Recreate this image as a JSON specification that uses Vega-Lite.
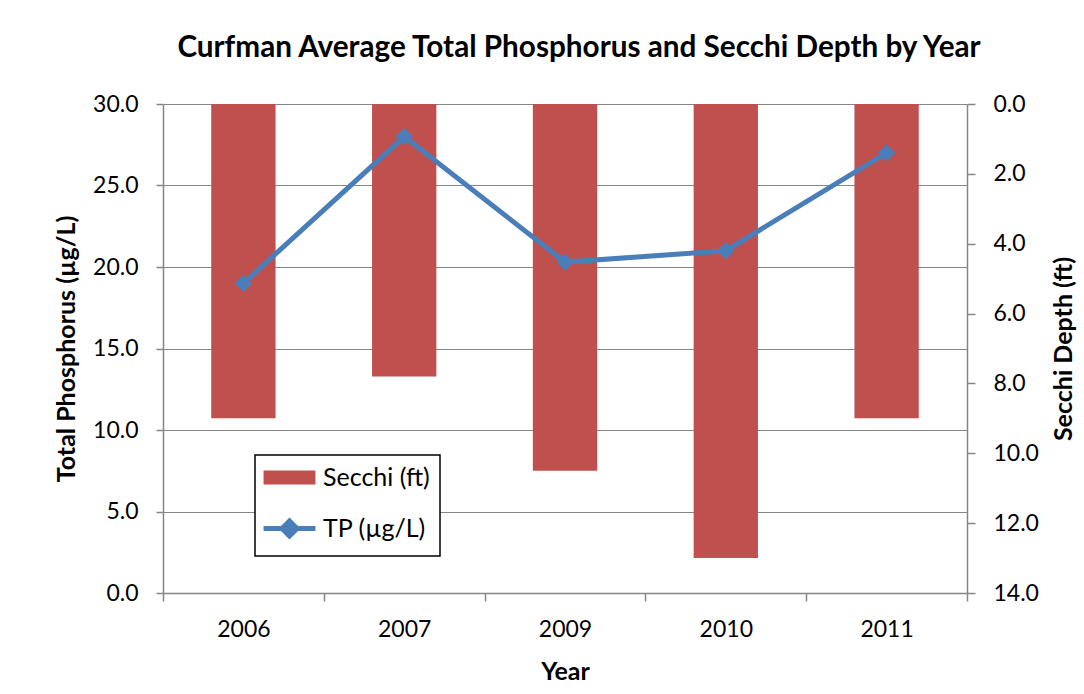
{
  "$schema": "https://vega.github.io/schema/vega-lite/v6.json",
  "width": 804,
  "height": 489,
  "autosize": {"type": "none"},
  "padding": {"left": 163, "top": 104, "right": 117, "bottom": 101},
  "background": "white",
  "title": {
    "text": "Curfman Average Total Phosphorus and Secchi Depth by Year",
    "font": "Lato",
    "fontSize": 29.7,
    "fontWeight": "bold",
    "color": "black",
    "anchor": "middle",
    "baseline": "alphabetic",
    "offset": 6,
    "dx": 14
  },
  "config": {
    "view": {"stroke": null},
    "font": "Lato",
    "axis": {
      "labelFont": "Lato",
      "labelFontSize": 23,
      "labelColor": "black",
      "titleFont": "Lato",
      "titleFontSize": 25,
      "titleFontWeight": "bold",
      "titleColor": "black",
      "domainColor": "#868686",
      "tickColor": "#868686",
      "gridColor": "#868686",
      "domainWidth": 1.5,
      "tickWidth": 1.5
    }
  },
  "data": {
    "values": [
      {"year": "2006", "tp": 19.0, "secchi": 9.0},
      {"year": "2007", "tp": 28.0, "secchi": 7.8},
      {"year": "2009", "tp": 20.3, "secchi": 10.5},
      {"year": "2010", "tp": 21.0, "secchi": 13.0},
      {"year": "2011", "tp": 27.0, "secchi": 9.0}
    ]
  },
  "layer": [
    {
      "mark": {"type": "bar", "width": {"band": 0.4}},
      "encoding": {
        "x": {
          "field": "year",
          "type": "nominal",
          "scale": {"paddingInner": 0, "paddingOuter": 0},
          "axis": {
            "title": "Year",
            "labelAngle": 0,
            "tickBand": "extent",
            "tickSize": 8,
            "labelPadding": 17,
            "titlePadding": 18,
            "grid": false
          }
        },
        "y": {
          "field": "secchi",
          "type": "quantitative",
          "scale": {"domain": [0, 14], "reverse": true, "nice": false},
          "axis": {
            "orient": "right",
            "title": "Secchi Depth (ft)",
            "titleAngle": -90,
            "titleBaseline": "top",
            "titlePadding": 13,
            "values": [0, 2, 4, 6, 8, 10, 12, 14],
            "format": ".1f",
            "grid": false,
            "tickSize": 8,
            "labelPadding": 18
          }
        },
        "color": {
          "datum": "Secchi (ft)",
          "type": "nominal",
          "scale": {"domain": ["Secchi (ft)", "TP (µg/L)"], "range": ["#c0504d", "#4a7ebb"]},
          "legend": {
            "title": null,
            "orient": "none",
            "legendX": 92,
            "legendY": 351,
            "strokeColor": "black",
            "fillColor": "white",
            "padding": 10,
            "symbolSize": 900,
            "symbolOffset": 12,
            "labelOffset": 21,
            "rowPadding": 20,
            "labelFont": "Lato",
            "labelFontSize": 25,
            "labelColor": "black",
            "encode": {
              "legend": {
                "update": {"strokeWidth": {"value": 1.5}}
              },
              "symbols": {
                "update": {
                  "shape": {"signal": "datum.value === 'Secchi (ft)' ? 'M-1.73,-0.47H1.73V0.47H-1.73Z' : 'M-1.73,0H1.73M0,-0.5L0.5,0L0,0.5L-0.5,0Z'"},
                  "fill": {"signal": "datum.value === 'Secchi (ft)' ? '#c0504d' : '#4a7ebb'"},
                  "stroke": {"signal": "datum.value === 'Secchi (ft)' ? null : '#4a7ebb'"},
                  "strokeWidth": {"signal": "datum.value === 'Secchi (ft)' ? 0 : 5"},
                  "opacity": {"value": 1}
                }
              }
            }
          }
        }
      }
    },
    {
      "mark": {
        "type": "line",
        "strokeWidth": 5,
        "point": {"shape": "diamond", "size": 300, "filled": true, "opacity": 1}
      },
      "encoding": {
        "x": {"field": "year", "type": "nominal"},
        "y": {
          "field": "tp",
          "type": "quantitative",
          "scale": {"domain": [0, 30], "nice": false},
          "axis": {
            "orient": "left",
            "title": "Total Phosphorus (µg/L)",
            "values": [0, 5, 10, 15, 20, 25, 30],
            "format": ".1f",
            "grid": true,
            "tickSize": 7,
            "labelPadding": 18,
            "titlePadding": 13
          }
        },
        "color": {"datum": "TP (µg/L)", "type": "nominal"}
      }
    }
  ],
  "resolve": {"scale": {"y": "independent"}}
}
